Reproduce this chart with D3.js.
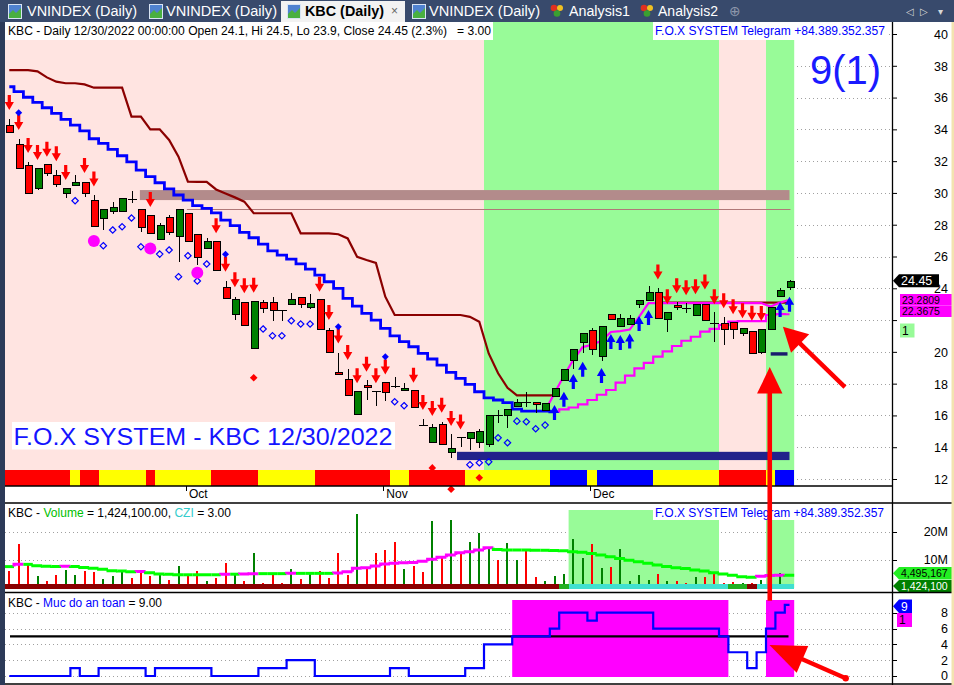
<!DOCTYPE html>
<html>
<head>
<meta charset="utf-8">
<script src="https://cdn.jsdelivr.net/npm/d3@7"></script>
<style>
body{margin:0;background:#fff;overflow:hidden}
svg{display:block;font-family:"Liberation Sans",Arial,sans-serif}
</style>
</head>
<body>
<div id="root"></div>
<script>
// KBC daily, 6 Sep 2022 .. 30 Dec 2022 (84 sessions)
const opens = [34.3,33.05,31.75,30.29,31.8,31.1,29.97,30.48,30.67,29.55,
 28.4,28.86,28.86,29.62,28.97,28.59,27.08,28.46,27.29,28.72,
 27.4,26.51,26.97,24.06,22.36,23.15,20.28,23.15,23.15,22.63,
 22.99,23.47,22.8,23.3,21.37,18.71,18.27,16.07,17.91,17.53,
 18.08,17.85,17.58,17.58,15.39,14.3,15.44,13.68,14.62,14.56,
 14.3,14.18,16.02,15.98,16.55,16.86,16.82,16.29,17.17,18.18,
 19.44,20.57,21.37,19.74,22.38,21.62,21.75,22.99,23.22,23.74,
 22.05,22.95,22.76,22.27,22.99,21.83,21.83,21.86,21.16,21.33,
 19.97,21.48,23.53,24.1]
const highs = [34.65,33.4,31.96,31.55,31.8,31.45,30.29,31.13,30.67,29.85,
 28.97,29.45,29.66,30.12,28.97,28.59,28.13,28.61,28.97,28.72,
 27.4,27.16,26.97,24.46,23.47,23.15,23.22,23.26,23.43,22.63,
 23.68,23.47,23.62,23.3,21.48,19.9,18.9,17.53,18.22,17.53,
 18.08,18.4,18.02,17.58,15.75,15.44,15.6,14.81,14.62,14.93,
 15.12,16.0,16.34,16.38,17.01,17.49,16.82,16.76,17.7,18.9,
 20.16,21.16,21.48,21.62,22.38,22.38,22.32,23.26,24.14,24.0,
 22.48,23.15,23.05,22.99,22.99,22.52,22.17,21.86,21.48,21.33,
 21.42,22.84,24.04,24.5]
const lows = [33.85,31.55,29.97,30.18,31.06,30.35,29.66,30.48,29.72,27.92,
 27.67,28.65,28.86,29.38,27.56,27.46,27.08,27.35,25.67,26.93,
 25.46,26.51,25.15,23.37,22.0,21.73,20.28,22.42,21.96,21.96,
 22.99,22.74,22.7,21.41,19.97,18.58,17.24,16.07,17.0,16.61,
 16.92,17.7,17.58,16.51,15.39,14.3,14.18,13.3,14.04,13.85,
 13.97,14.03,15.54,15.22,16.55,16.51,16.13,16.29,17.17,18.18,
 18.9,19.9,19.8,19.44,22.05,21.62,21.75,22.74,23.22,22.11,
 21.27,22.63,22.42,22.27,21.96,20.64,20.43,20.81,20.99,19.97,
 19.84,21.48,23.53,23.9]
const closes = [33.85,31.55,29.97,31.55,31.23,30.55,30.29,30.67,29.97,27.92,
 28.97,29.09,29.66,29.62,27.84,27.46,27.96,27.5,28.97,26.93,
 25.98,26.97,25.15,23.37,23.3,21.73,23.22,22.78,22.63,22.63,
 23.3,23.05,23.05,21.41,19.97,18.58,17.24,17.53,17.77,17.53,
 17.45,17.85,17.7,16.51,15.39,15.25,14.18,13.93,14.62,14.93,
 15.01,16.0,16.02,16.38,16.82,16.86,16.7,16.76,17.7,18.9,
 20.16,21.16,20.16,21.62,22.05,22.11,22.11,23.26,23.74,22.11,
 22.48,22.8,22.76,22.99,21.96,21.83,21.48,21.42,21.48,19.97,
 21.42,22.84,23.89,24.45]
// volume, millions
const volumes = [6.0,15.6,8.5,4.3,2.5,4.6,6.4,4.6,6.0,5.7,
 3.2,4.3,5.7,3.6,5.7,4.3,5.3,2.8,7.8,4.3,
 6.0,2.5,3.6,8.9,4.6,2.5,12.4,1.8,5.3,1.8,
 6.7,3.2,5.3,6.0,3.6,12.4,4.6,26.3,7.5,12.4,
 13.5,16.3,6.7,7.8,5.7,23.8,11.4,24.2,12.4,16.3,
 19.5,14.0,9.9,15.9,9.9,13.5,3.9,2.6,4.3,5.0,
 17.4,10.5,15.6,7.0,7.3,13.9,2.6,4.6,2.8,5.0,
 2.6,2.6,1.7,3.8,3.8,5.2,1.7,2.0,1.7,1.7,
 2.8,3.4,5.2,1.4241]
const volumeAvg = [7.6,8.4,8.4,7.9,7.7,7.6,7.7,7.6,7.3,7.0,
 6.7,6.1,6.0,5.8,5.9,5.4,5.0,4.9,4.7,4.7,
 4.7,4.7,4.7,4.9,4.9,5.0,5.1,5.1,5.1,5.1,
 5.2,5.2,5.2,5.2,5.2,5.3,5.8,7.0,7.2,7.8,
 8.5,8.8,9.0,9.1,9.5,10.2,10.9,11.7,12.5,12.9,
 13.5,14.3,13.7,13.5,13.5,13.5,13.4,13.4,13.3,13.2,
 12.9,12.7,12.3,11.7,11.1,10.5,9.9,9.3,8.8,8.2,
 7.6,7.2,6.9,6.4,6.0,5.4,5.0,4.5,4.0,3.8,
 4.2,4.4,4.5,4.495167]
// "Muc do an toan" safety level
const safety = [0,0,0,0,0,0,0,1,0,0,
 1,1,1,1,1,0,1,1,1,1,
 1,1,0,0,0,0,0,1,1,1,
 2,2,2,0,0,0,0,0,0,0,
 0,1,1,0,0,0,0,0,0,1,
 1,4,4,4,5,5,5,5,6,8,
 8,8,7,8,8,8,8,8,8,6,
 6,6,6,6,6,6,5,3,3,1,
 3,6,8,9]
const safetyLevel = 5

// trailing stops / averages on the price pane (null = not drawn)
const N = null
const stopDown = [37.73,37.73,37.73,37.65,37.27,37.0,36.9,36.9,36.83,36.62,
 36.62,36.62,36.62,34.8,34.8,34.0,34.0,33.33,32.28,30.71,
 30.7,30.7,30.22,29.97,29.72,29.45,28.72,28.72,28.72,28.72,
 28.72,27.46,27.46,27.46,27.46,27.4,27.14,25.98,25.78,25.6,
 23.47,22.32,22.32,22.32,22.32,22.32,22.32,22.32,22.32,22.2,
 21.9,19.9,18.65,17.74,17.26,17.26,17.26,17.26,17.26,N,
 N,N,N,N,N,N,N,N,N,23.1,
 23.1,23.1,23.1,23.1,23.1,23.1,23.1,23.1,23.1,23.1,
 23.1,23.1,23.1,23.1]
const blueTrail = [36.68,36.37,36.02,35.7,35.36,35.01,34.63,34.27,33.9,33.41,
 33.12,32.74,32.34,31.96,31.44,31.02,30.64,30.25,29.87,29.55,
 29.2,29.03,28.75,28.29,27.94,27.52,27.18,26.78,26.36,26.09,
 25.84,25.53,25.21,24.83,24.41,24.0,23.37,22.88,22.42,22.0,
 21.48,21.0,20.64,20.32,19.9,19.55,19.17,18.71,18.33,17.95,
 17.49,17.11,16.97,16.8,16.4,16.27,16.27,16.27,16.23,N,
 N,N,N,N,N,N,N,N,N,N,
 N,N,N,N,N,N,N,N,N,N,
 N,N,N,N]
const fastLine = [N,N,N,N,N,N,N,N,N,N,
 N,N,N,N,N,N,N,N,N,N,
 N,N,N,N,N,N,N,N,N,N,
 N,N,N,N,N,N,N,N,N,N,
 N,N,N,N,N,N,N,N,N,N,
 N,N,N,N,N,N,N,16.3,17.4,18.5,
 19.5,20.3,20.45,20.7,21.25,21.3,21.4,22.2,23.07,23.07,
 23.07,23.07,23.07,23.07,23.07,23.07,23.07,23.07,23.07,23.07,
 23.07,22.85,23.1,23.2809]
const slowLine = [N,N,N,N,N,N,N,N,N,N,
 N,N,N,N,N,N,N,N,N,N,
 N,N,N,N,N,N,N,N,N,N,
 N,N,N,N,N,N,N,N,N,N,
 N,N,N,N,N,N,N,N,N,N,
 N,N,N,N,N,N,N,N,16.23,16.38,
 16.5,16.7,16.97,17.3,17.6,18.06,18.5,18.96,19.31,19.7,
 20.03,20.37,20.7,20.95,21.27,21.44,21.69,21.9,21.94,21.94,
 21.94,22.32,22.37,22.3675]

// zone codes per bar
const mainZone = ("P".repeat(51) + "G".repeat(25) + "P".repeat(5) + "GGG").split("")
const volZone = ("-".repeat(60) + "G".repeat(16) + "-".repeat(5) + "GGG").split("")
const safeZone = ("-".repeat(54) + "M".repeat(23) + "-".repeat(4) + "MMM").split("")
const trendRibbon = "RRRRRRRYRRYYYYYRYYYYYYRRRRRYYYYYYRRRRRRRRYYRRRRRRYYYYYYYYYBBBBYBBBBBBYYYYYYYRRRRRYBB".split("")
const cziRibbon = ("D".repeat(59) + "G" + "C".repeat(17) + "GG" + "D" + "CCCC").split("")

// signals
const sellBars = [0,1,2,3,4,5,6,8,9,15,22,23,24,25,26,33,34,35,36,37,38,39,40,43,44,45,46,47,48,69,70,71,72,73,74,75,76,77,78,79,80]
const sellTips = [35.22,33.96,32.51,32.07,32.28,32.0,30.81,31.25,30.4,29.11,27.46,25.04,24.06,23.68,23.72,23.78,22.0,20.53,19.48,18.02,18.75,18.02,18.57,18.06,16.34,15.96,16.17,15.33,15.12,24.56,22.99,23.68,23.56,23.62,23.93,22.99,22.74,22.36,22.11,21.96,21.94]
const buyBars = [58,59,60,61,63,64,65,66,67,68,82,83]
const buyTips = [16.65,17.49,18.6,19.38,18.98,21.12,21.06,21.16,22.25,22.63,23.13,23.47]
const ringBars = [7,10,11,12,13,14,16,17,18,19,20,21,27,28,29,30,31,32,41,42,49,50,51,52,53,54,55,56,57]
const ringVals = [29.51,26.68,27.67,27.87,28.42,26.61,26.15,26.41,24.73,26.05,24.46,25.53,21.44,21.01,21.01,21.96,21.75,21.75,16.86,16.61,12.9,13.02,13.08,14.59,14.28,15.64,15.6,15.16,15.39]
const dotBars = [1,23,35,40]
const dotVals = [35.05,26.14,21.58,19.69]
const pinkBars = [9,15,20]
const pinkVals = [26.97,26.51,24.98]
const redGemBars = [26,45,47,50]
const redGemVals = [18.37,12.7,11.36,12.08]

// levels
const resistZone = [29.55, 30.18]
const resistFrom = 14
const resistLine = 28.97
const resistLineFrom = 19
const supportZone = [13.19, 13.71]
const supportFrom = 48
const stopDash = 19.87
const stopDashFrom = 81

// axes
const priceTicks = [12,14,16,18,20,22,24,26,28,30,32,34,36,38,40]
const hiddenPriceLabels = [22]   // covered by the value boxes
const volTicks = [10, 20]
const volTickLabels = ["10M", "20M"]
const safeTicks = [0,2,4,6,8]
const monthBars = [19, 40, 62]
const monthLabels = ["Oct", "Nov", "Dec"]

const W = 954, H = 685
const cfg = {
    left: 5, right: 892,
    mainTop: 22, mainBottom: 486,
    font: "Liberation Sans, Arial, sans-serif"
}

const svg = d3.select("#root").append("svg").attr("width", W).attr("height", H)
svg.append("rect").attr("width", W).attr("height", H).attr("fill", "#fff")

const xs = d3.scaleLinear().domain([0, 83]).range([9.3, 789.5])
const yP = d3.scaleLinear().domain([12, 40]).range([479, 34])
const yV = d3.scaleLinear().domain([0, 20]).range([588, 531.7])
const yS = d3.scaleLinear().domain([0, 8]).range([676, 612.7])
const bw = xs(1) - xs(0)
const px = v => Math.round(v) + 0.5

function runs(codes) {
    let out = [], s = 0
    for (let i = 1; i <= codes.length; i++) {
        if (i == codes.length || codes[i] != codes[s]) {
            out.push({code: codes[s], a: s, b: i - 1})
            s = i
        }
    }
    return out
}
const runX0 = r => r.a == 0 ? cfg.left : xs(r.a) - bw / 2
const runX1 = r => xs(r.b) + bw / 2

function dotted(g, ticks, yScale, x1, x2) {
    g.selectAll(null).data(ticks).join("line")
        .attr("x1", x1).attr("x2", x2)
        .attr("y1", d => px(yScale(d))).attr("y2", d => px(yScale(d)))
        .attr("stroke", "#a0a0a0").attr("stroke-dasharray", "1,3")
}

//--- main pane
const mainG = svg.append("g")
dotted(mainG, priceTicks, yP, cfg.left, cfg.right)
mainG.append("g").selectAll("rect").data(runs(mainZone)).join("rect")
    .attr("x", runX0).attr("width", r => runX1(r) - runX0(r))
    .attr("y", cfg.mainTop).attr("height", cfg.mainBottom - cfg.mainTop)
    .attr("fill", r => r.code == "G" ? "#98fb98" : "#ffe4e1")

// header
mainG.append("rect").attr("x", cfg.left).attr("y", 22).attr("width", 488).attr("height", 18).attr("fill", "#fff")
mainG.append("rect").attr("x", 653).attr("y", 22).attr("width", 235).attr("height", 18).attr("fill", "#fff")
const last = 83
mainG.append("text").attr("x", 8).attr("y", 35).attr("font-size", 12).attr("fill", "#000")
    .attr("xml:space", "preserve").attr("textLength", 483).attr("lengthAdjust", "spacingAndGlyphs")
    .text(`KBC - Daily 12/30/2022 00:00:00 Open ${opens[last]}, Hi ${highs[last]}, Lo ${lows[last]}, Close ${closes[last]} (2.3%)   = 3.00`)
mainG.append("text").attr("x", 655).attr("y", 35).attr("font-size", 12).attr("fill", "#0000ff")
    .attr("textLength", 230).attr("lengthAdjust", "spacingAndGlyphs")
    .text("F.O.X SYSTEM Telegram +84.389.352.357")

// level zones
mainG.append("rect").attr("x", xs(resistFrom) - 1).attr("width", xs(last) + 1 - xs(resistFrom))
    .attr("y", yP(resistZone[1])).attr("height", yP(resistZone[0]) - yP(resistZone[1]))
    .attr("fill", "#b38b8b")
mainG.append("line").attr("x1", xs(resistLineFrom) - 1).attr("x2", xs(last) + 1)
    .attr("y1", px(yP(resistLine))).attr("y2", px(yP(resistLine)))
    .attr("stroke", "#b07878").attr("stroke-width", 1)

const line = d3.line().defined(d => d != null).x((d, i) => xs(i)).y(d => yP(d))
mainG.append("path").attr("d", line.curve(d3.curveLinear)(stopDown))
    .attr("fill", "none").attr("stroke", "#8b0000").attr("stroke-width", 2.2)
mainG.append("path").attr("d", line.curve(d3.curveStep)(blueTrail))
    .attr("fill", "none").attr("stroke", "#0000ff").attr("stroke-width", 2.8)
mainG.append("path").attr("d", line.curve(d3.curveStep)(slowLine))
    .attr("fill", "none").attr("stroke", "#ff00ff").attr("stroke-width", 2.2)
mainG.append("path").attr("d", line.curve(d3.curveLinear)(fastLine))
    .attr("fill", "none").attr("stroke", "#ff00ff").attr("stroke-width", 2.2)

mainG.append("rect").attr("x", xs(supportFrom) - 3.5).attr("width", xs(last) - xs(supportFrom) + 3.5)
    .attr("y", yP(supportZone[1])).attr("height", yP(supportZone[0]) - yP(supportZone[1]))
    .attr("fill", "#22228b")
mainG.append("rect").attr("x", xs(stopDashFrom)).attr("width", xs(last) - 2 - xs(stopDashFrom))
    .attr("y", yP(stopDash) - 1.7).attr("height", 3.4).attr("fill", "#1a1a6e")

// candles
const bars = d3.range(opens.length).map(i => ({i: i, o: opens[i], h: highs[i], l: lows[i], c: closes[i]}))
const candleG = mainG.append("g").attr("shape-rendering", "crispEdges")
candleG.selectAll("line.wick").data(bars).join("line").attr("class", "wick")
    .attr("x1", d => px(xs(d.i))).attr("x2", d => px(xs(d.i)))
    .attr("y1", d => yP(d.h)).attr("y2", d => yP(d.l))
    .attr("stroke", "#000")
candleG.selectAll("rect").data(bars.filter(d => d.o != d.c)).join("rect")
    .attr("x", d => Math.round(xs(d.i)) - 3 + 0.5).attr("width", 7)
    .attr("y", d => Math.round(yP(Math.max(d.o, d.c))) + 0.5)
    .attr("height", d => Math.max(1, Math.round(Math.abs(yP(d.o) - yP(d.c)))))
    .attr("fill", d => d.c > d.o ? "#008000" : "#ff0000")
    .attr("stroke", "#000")
candleG.selectAll("line.doji").data(bars.filter(d => d.o == d.c)).join("line").attr("class", "doji")
    .attr("x1", d => Math.round(xs(d.i)) - 4).attr("x2", d => Math.round(xs(d.i)) + 5)
    .attr("y1", d => px(yP(d.o))).attr("y2", d => px(yP(d.o)))
    .attr("stroke", "#000")

// signals
const arrowShape = "-1.6,-15 1.6,-15 1.6,-8 4.6,-8 0,0 -4.6,-8 -1.6,-8"
mainG.append("g").selectAll("polygon").data(sellBars).join("polygon")
    .attr("points", arrowShape)
    .attr("transform", (d, k) => `translate(${xs(d)},${yP(sellTips[k])})`)
    .attr("fill", "#ff0000")
mainG.append("g").selectAll("polygon").data(buyBars).join("polygon")
    .attr("points", arrowShape)
    .attr("transform", (d, k) => `translate(${xs(d)},${yP(buyTips[k])}) scale(1,-1)`)
    .attr("fill", "#0000ff")
mainG.append("g").selectAll("path").data(ringBars).join("path")
    .attr("d", "M0,-3.2L3.2,0L0,3.2L-3.2,0Z")
    .attr("transform", (d, k) => `translate(${xs(d)},${yP(ringVals[k])})`)
    .attr("fill", "none").attr("stroke", "#0000ff").attr("stroke-width", 1.2)
mainG.append("g").selectAll("path").data(dotBars).join("path")
    .attr("d", "M0,-3.5L3.5,0L0,3.5L-3.5,0Z")
    .attr("transform", (d, k) => `translate(${xs(d)},${yP(dotVals[k])})`)
    .attr("fill", "#0000ff")
mainG.append("g").selectAll("circle").data(pinkBars).join("circle")
    .attr("cx", d => xs(d)).attr("cy", (d, k) => yP(pinkVals[k])).attr("r", 6)
    .attr("fill", "#ff00ff")

mainG.append("rect").attr("x", 12).attr("y", 422).attr("width", 383).attr("height", 27.5).attr("fill", "#fff")
mainG.append("text").attr("x", 13.5).attr("y", 444.5).attr("font-size", 24.5).attr("fill", "#1414ff")
    .attr("textLength", 379).attr("lengthAdjust", "spacingAndGlyphs")
    .text("F.O.X SYSTEM - KBC 12/30/2022")

const ribbonColor = {R: "#ff0000", Y: "#ffff00", B: "#0000ff"}
mainG.append("g").attr("shape-rendering", "crispEdges").selectAll("rect").data(runs(trendRibbon)).join("rect")
    .attr("x", runX0).attr("width", r => runX1(r) - runX0(r))
    .attr("y", 469.5).attr("height", 16)
    .attr("fill", r => ribbonColor[r.code])
mainG.append("g").selectAll("path").data(redGemBars).join("path")
    .attr("d", "M0,-3.8L3.8,0L0,3.8L-3.8,0Z")
    .attr("transform", (d, k) => `translate(${xs(d)},${yP(redGemVals[k])})`)
    .attr("fill", "#ff0000")

mainG.append("text").attr("x", 810).attr("y", 84).attr("font-size", 40).attr("fill", "#1a1aff")
    .text("9(1)")

// price axis
const priceAxis = svg.append("g").attr("transform", `translate(${cfg.right},0)`)
    .call(d3.axisRight(yP).tickValues(priceTicks).tickSize(5)
        .tickFormat(d => hiddenPriceLabels.includes(d) ? "" : d3.format("d")(d)))
priceAxis.select(".domain").remove()
priceAxis.selectAll("line").attr("stroke", "#000")
priceAxis.selectAll("text").attr("x", 56).attr("text-anchor", "end").attr("dy", "0.35em")
    .attr("font-size", 12.5).attr("font-family", cfg.font).attr("fill", "#000")

function pointerBox(g, x, y, w, h, fill, color, label, pointer, fs) {
    const p = pointer ? [[x, y + h / 2], [x + 6, y], [x + w, y], [x + w, y + h], [x + 6, y + h]]
        : [[x, y], [x + w, y], [x + w, y + h], [x, y + h]]
    g.append("polygon").attr("points", p.map(q => q.join(",")).join(" ")).attr("fill", fill)
    g.append("text").attr("x", x + (pointer ? 8 : 2)).attr("y", y + h / 2).attr("dy", "0.36em")
        .attr("font-size", fs || 12.5).attr("fill", color).text(label)
}
const lblG = svg.append("g")
pointerBox(lblG, 893, yP(closes[last]) - 7, 46, 13, "#000", "#fff", d3.format(".2f")(closes[last]), true, 12.5)
pointerBox(lblG, 900, 294, 53, 11.5, "#ff00ff", "#000", fastLine[last], false, 10.5)
pointerBox(lblG, 900, 305.5, 53, 11.5, "#ff00ff", "#000", slowLine[last], false, 10.5)
pointerBox(lblG, 900, 323.5, 14.5, 14, "#98fb98", "#000", "1", false, 12)

// time axis
svg.append("line").attr("x1", cfg.left).attr("x2", cfg.right).attr("y1", 486).attr("y2", 486).attr("stroke", "#000").attr("stroke-width", 1.5)
const timeG = svg.append("g")
timeG.selectAll("line").data(monthBars).join("line")
    .attr("x1", d => px(xs(d) - 2)).attr("x2", d => px(xs(d) - 2)).attr("y1", 486).attr("y2", 491)
    .attr("stroke", "#000")
timeG.selectAll("text").data(monthBars).join("text")
    .attr("x", d => xs(d) + 1).attr("y", 498).attr("font-size", 12).text((d, k) => monthLabels[k])

//--- volume pane
const volG = svg.append("g")
dotted(volG, volTicks, yV, cfg.left, cfg.right)
volG.selectAll("rect.zone").data(runs(volZone).filter(r => r.code == "G")).join("rect").attr("class", "zone")
    .attr("x", runX0).attr("width", r => runX1(r) - runX0(r))
    .attr("y", r => r.a > 70 ? 520 : 510).attr("height", r => 588 - (r.a > 70 ? 520 : 510))
    .attr("fill", "#98fb98")
volG.append("rect").attr("x", 653).attr("y", 505).attr("width", 234).attr("height", 15).attr("fill", "#fff")
volG.append("text").attr("x", 655).attr("y", 517).attr("font-size", 12).attr("fill", "#0000ff")
    .attr("textLength", 229).attr("lengthAdjust", "spacingAndGlyphs")
    .text("F.O.X SYSTEM Telegram +84.389.352.357")
const volText = volG.append("text").attr("x", 8).attr("y", 517).attr("font-size", 12)
    .attr("textLength", 223).attr("lengthAdjust", "spacingAndGlyphs").attr("xml:space", "preserve")
volText.append("tspan").attr("fill", "#000").text("KBC - ")
volText.append("tspan").attr("fill", "#00c000").text("Volume")
volText.append("tspan").attr("fill", "#000").text(" = " + d3.format(",.2f")(Math.round(volumes[last] * 1e6)) + ", ")
volText.append("tspan").attr("fill", "#33cccc").text("CZI")
volText.append("tspan").attr("fill", "#000").text(" = 3.00")

volG.append("g").attr("shape-rendering", "crispEdges").selectAll("rect").data(bars).join("rect")
    .attr("x", d => Math.round(xs(d.i)) - 1).attr("width", 2)
    .attr("y", d => yV(volumes[d.i])).attr("height", d => yV(0) - yV(volumes[d.i]))
    .attr("fill", d => d.c > d.o ? "#008000" : "#ff0000")
const stepV = d3.line().x(d => d[0]).y(d => yV(d[1]))
volG.append("g").selectAll("path").data(volumeAvg).join("path")
    .attr("d", (v, i) => {
        const pts = [[xs(i) - bw / 2, v], [xs(i) + bw / 2, v]]
        if (i > 0) pts.unshift([xs(i) - bw / 2, volumeAvg[i - 1]])
        return stepV(pts)
    })
    .attr("fill", "none").attr("stroke-width", 3)
    .attr("stroke", (v, i) => i > 0 && v > volumeAvg[i - 1] ? "#ff00ff" : "#00ff00")
const cziColor = {D: "#8b0000", G: "#22b022", C: "#40e0d0"}
volG.append("g").attr("shape-rendering", "crispEdges").selectAll("rect.czi").data(runs(cziRibbon)).join("rect").attr("class", "czi")
    .attr("x", runX0).attr("width", r => runX1(r) - runX0(r))
    .attr("y", 583.5).attr("height", 5)
    .attr("fill", r => cziColor[r.code])
const volAxis = volG.append("g")
volAxis.selectAll("line").data(volTicks).join("line")
    .attr("x1", cfg.right).attr("x2", cfg.right + 5).attr("y1", d => px(yV(d))).attr("y2", d => px(yV(d))).attr("stroke", "#000")
volAxis.selectAll("text").data(volTicks).join("text")
    .attr("x", 948).attr("y", d => yV(d)).attr("dy", "0.35em").attr("text-anchor", "end")
    .attr("font-size", 12.5).text((d, k) => volTickLabels[k])
pointerBox(lblG, 893, 567, 61, 12.5, "#22ee22", "#000", d3.format(",")(Math.round(volumeAvg[last] * 1e6)), true, 10.5)
pointerBox(lblG, 893, 580, 61, 12, "#008000", "#fff", d3.format(",")(Math.round(volumes[last] * 1e6)), true, 10.5)

//--- safety pane
const safeG = svg.append("g")
dotted(safeG, safeTicks, yS, cfg.left, cfg.right)
safeG.selectAll("rect.zone").data(runs(safeZone).filter(r => r.code == "M")).join("rect").attr("class", "zone")
    .attr("x", runX0).attr("width", r => runX1(r) - runX0(r))
    .attr("y", 600).attr("height", 77)
    .attr("fill", "#ff00ff")
safeG.append("line").attr("x1", 10).attr("x2", xs(last) - 1)
    .attr("y1", yS(safetyLevel)).attr("y2", yS(safetyLevel))
    .attr("stroke", "#000").attr("stroke-width", 2.2)
safeG.append("path").attr("d", d3.line().x((d, i) => xs(i)).y(d => yS(d)).curve(d3.curveStep)(safety))
    .attr("fill", "none").attr("stroke", "#0000ff").attr("stroke-width", 2.2)
const safeText = safeG.append("text").attr("x", 8).attr("y", 607).attr("font-size", 12)
    .attr("textLength", 154).attr("lengthAdjust", "spacingAndGlyphs").attr("xml:space", "preserve")
safeText.append("tspan").attr("fill", "#000").text("KBC - ")
safeText.append("tspan").attr("fill", "#0000ff").text("Muc do an toan")
safeText.append("tspan").attr("fill", "#000").text(" = " + d3.format(".2f")(safety[last]))
const safeAxis = safeG.append("g")
safeAxis.selectAll("line").data(safeTicks).join("line")
    .attr("x1", cfg.right).attr("x2", cfg.right + 5).attr("y1", d => px(yS(d))).attr("y2", d => px(yS(d))).attr("stroke", "#000")
safeAxis.selectAll("text").data(safeTicks).join("text")
    .attr("x", 948).attr("y", d => yS(d)).attr("dy", "0.35em").attr("text-anchor", "end")
    .attr("font-size", 12.5).text(d => d)
pointerBox(lblG, 893, 599.5, 19, 13.5, "#0000ff", "#fff", String(safety[last]), true, 12)
pointerBox(lblG, 897, 613, 15, 14, "#ff00ff", "#000", "1", false, 12)

//--- frame
const frame = svg.append("g").attr("stroke", "#000")
frame.append("line").attr("x1", cfg.left).attr("x2", W).attr("y1", 503).attr("y2", 503).attr("stroke-width", 1.5)
frame.append("line").attr("x1", cfg.left).attr("x2", W).attr("y1", 592.5).attr("y2", 592.5).attr("stroke-width", 1.5)
frame.append("line").attr("x1", cfg.left).attr("x2", W).attr("y1", 684).attr("y2", 684).attr("stroke-width", 1.5)
frame.append("line").attr("x1", px(cfg.right)).attr("x2", px(cfg.right)).attr("y1", 22).attr("y2", H).attr("stroke-width", 1.3)
svg.append("rect").attr("x", 0).attr("y", 22).attr("width", 5).attr("height", H - 22).attr("fill", "#2c3a58")
svg.append("rect").attr("x", 951.5).attr("y", 22).attr("width", 2.5).attr("height", H - 22).attr("fill", "#f3e3b0")

//--- tab bar
const tabG = svg.append("g")
tabG.append("rect").attr("width", W).attr("height", 22).attr("fill", "#384a6c")
const tabs = [
    {label: "VNINDEX (Daily)", ix: 8, tx: 27, tw: 110},
    {label: "VNINDEX (Daily)", ix: 149, tx: 166, tw: 111},
    {label: "KBC (Daily)", ix: 287, tx: 305, tw: 79, active: true},
    {label: "VNINDEX (Daily)", ix: 412, tx: 429, tw: 111},
    {label: "Analysis1", ix: 550, tx: 569, tw: 61, heart: true},
    {label: "Analysis2", ix: 640, tx: 658, tw: 60, heart: true}
]
tabs.forEach(t => {
    if (t.active) tabG.append("rect").attr("x", 281).attr("y", 1).attr("width", 124).attr("height", 21).attr("fill", "#f2f2f2")
    if (t.heart) {
        tabG.append("circle").attr("cx", t.ix + 4).attr("cy", 8).attr("r", 3.3).attr("fill", "#e03020")
        tabG.append("circle").attr("cx", t.ix + 10).attr("cy", 8).attr("r", 3).attr("fill", "#f0c020")
        tabG.append("circle").attr("cx", t.ix + 7).attr("cy", 13.5).attr("r", 3.3).attr("fill", "#3aa030")
    } else {
        tabG.append("rect").attr("x", t.ix + 0.5).attr("y", 4.5).attr("width", 13).attr("height", 14)
            .attr("fill", "#4f82d0").attr("stroke", "#d8e4f4")
        tabG.append("path").attr("d", `M${t.ix + 1},18 L${t.ix + 1},14 L${t.ix + 5},10 L${t.ix + 8},13 L${t.ix + 13},8 L${t.ix + 13},18 Z`)
            .attr("fill", "#49b040")
    }
    tabG.append("text").attr("x", t.tx).attr("y", 16).attr("font-size", 14)
        .attr("font-weight", t.active ? "bold" : "normal")
        .attr("fill", t.active ? "#000" : "#fff")
        .attr("textLength", t.tw).attr("lengthAdjust", "spacingAndGlyphs").text(t.label)
})
tabG.append("text").attr("x", 391).attr("y", 15).attr("font-size", 12).attr("fill", "#666").text("×")
tabG.append("text").attr("x", 729).attr("y", 16).attr("font-size", 14).attr("fill", "#8d97ab").attr("font-family", "DejaVu Sans").text("⊕")
tabG.append("text").attr("x", 906).attr("y", 15).attr("font-size", 10).attr("fill", "#d8d8d8").attr("font-family", "DejaVu Sans").text("◁")
tabG.append("text").attr("x", 920).attr("y", 15).attr("font-size", 10).attr("fill", "#d8d8d8").attr("font-family", "DejaVu Sans").text("▷")
tabG.append("text").attr("x", 938).attr("y", 15).attr("font-size", 10).attr("fill", "#d8d8d8").attr("font-family", "DejaVu Sans").text("▾")

//--- annotations
const annG = svg.append("g")
function bigArrow(tail, tip, headLen, headHalf, width) {
    const dx = tip[0] - tail[0], dy = tip[1] - tail[1], L = Math.hypot(dx, dy)
    const ux = dx / L, uy = dy / L, nx = -uy, ny = ux
    const bx = tip[0] - ux * headLen, by = tip[1] - uy * headLen
    annG.append("line").attr("x1", tail[0]).attr("y1", tail[1]).attr("x2", bx + ux * 2).attr("y2", by + uy * 2)
        .attr("stroke", "#ff0000").attr("stroke-width", width)
    annG.append("polygon")
        .attr("points", [tip, [bx + nx * headHalf, by + ny * headHalf], [bx - nx * headHalf, by - ny * headHalf]].map(p => p.join(",")).join(" "))
        .attr("fill", "#ff0000")
}
bigArrow([xs(80.9), yS(9.5)], [xs(80.9), yP(19.04)], 26.5, 12.7, 4.6)
bigArrow([xs(88.9), yP(17.78)], [xs(82.3), yP(21.58)], 24, 13, 4.4)
bigArrow([xs(88.98), yS(-0.29)], [xs(80.87), yS(3.92)], 36, 14.5, 4.4)
annG.append("circle").attr("cx", xs(88.98)).attr("cy", yS(-0.29)).attr("r", 3.2).attr("fill", "#ff0000")
</script>
</body>
</html>
